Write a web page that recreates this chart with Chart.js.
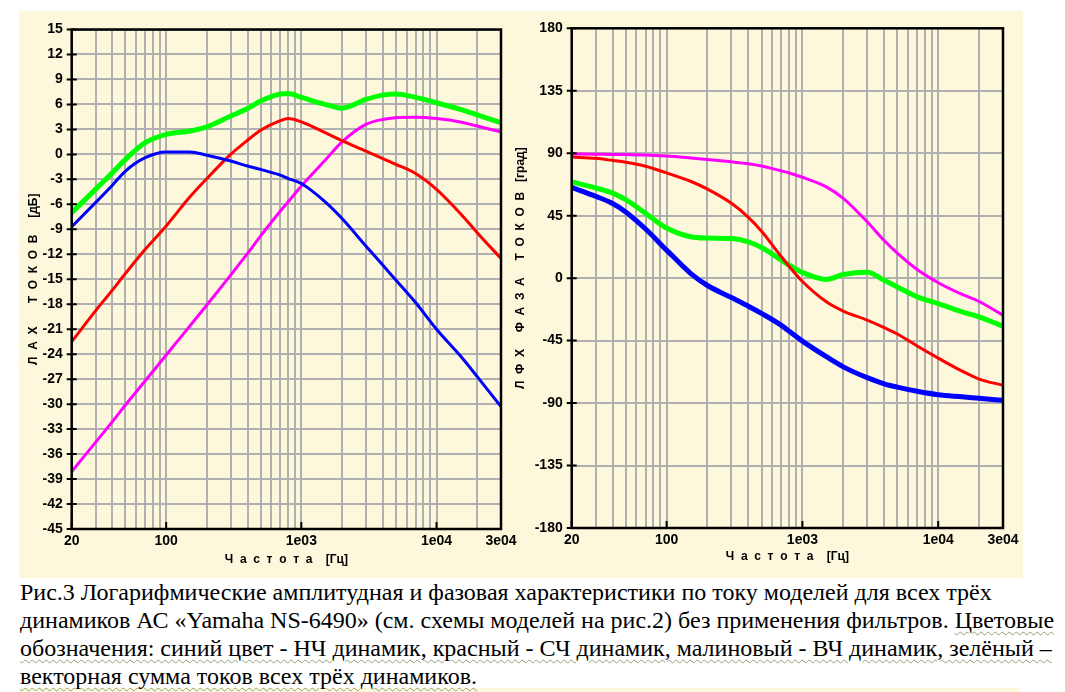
<!DOCTYPE html>
<html>
<head>
<meta charset="utf-8">
<script src="https://cdn.jsdelivr.net/npm/chart.js@4.4.1/dist/chart.umd.min.js"></script>
<style>
  html, body { margin: 0; padding: 0; background: #fff; }
  body { width: 1065px; height: 692px; position: relative; overflow: hidden; }
  .panel { position: absolute; left: 19px; top: 11px; width: 1004px; height: 567px; background: #fdf8dc; }
  .strip { position: absolute; left: 19px; top: 688px; width: 1001px; height: 4px; background: #fdf8dc; }
  #lax { position: absolute; left: 19px; top: 11px; }
  #lfx { position: absolute; left: 510px; top: 11px; }
  .caption {
    position: absolute; left: 20px; top: 578px;
    font-family: "Liberation Serif", "DejaVu Serif", "Times New Roman", serif;
    font-size: 24px; line-height: 28px; color: #000; white-space: nowrap;
  }
  .wavy { text-decoration: underline wavy #8fa080; text-decoration-thickness: 1px; text-underline-offset: 3px; }
</style>
</head>
<body>
<div class="panel"></div>
<div class="strip"></div>
<canvas id="lax" width="525" height="567"></canvas>
<canvas id="lfx" width="513" height="567"></canvas>
<div class="caption">
  Рис.3 Логарифмические амплитудная и фазовая характеристики по току моделей для всех трёх<br>
  динамиков АС «Yamaha NS-6490» (см. схемы моделей на рис.2) без применения фильтров. <span class="wavy">Цветовые</span><br>
  <span class="wavy">обозначения: синий цвет - НЧ динамик, красный - СЧ динамик, малиновый - ВЧ динамик, зелёный –</span><br>
  <span class="wavy">векторная сумма токов всех трёх динамиков.</span>
</div>
<script>
// frequencies, Hz
const freqs = [20, 30, 40, 50, 70, 100, 150, 200, 300, 400, 500, 700, 800, 1000, 1500, 2000, 3000, 4000, 5000, 7000, 10000, 15000, 20000, 30000];

// ЛАХ токов, дБ
const laxLow  = [-8.7, -5.8, -3.7, -2.0, -0.4, 0.3, 0.3, -0.1, -0.8, -1.4, -1.8, -2.5, -2.9, -3.5, -5.7, -7.7, -11.0, -13.3, -15.1, -17.8, -21.0, -24.2, -26.7, -30.3];
const laxMid  = [-22.5, -18.8, -16.3, -14.3, -11.4, -8.6, -5.1, -2.9, 0.0, 1.7, 2.9, 4.05, 4.3, 3.9, 2.6, 1.65, 0.4, -0.5, -1.2, -2.3, -4.2, -7.1, -9.4, -12.5];
const laxHigh = [-38.1, -34.6, -32.1, -30.1, -27.2, -24.1, -20.6, -18.1, -14.5, -11.9, -9.8, -6.8, -5.7, -3.8, -0.7, 1.5, 3.6, 4.2, 4.4, 4.45, 4.3, 3.9, 3.4, 2.7];
const laxSum  = [-7.0, -4.2, -2.2, -0.6, 1.4, 2.4, 2.8, 3.3, 4.6, 5.5, 6.4, 7.25, 7.3, 6.85, 6.0, 5.55, 6.6, 7.12, 7.25, 6.85, 6.2, 5.4, 4.75, 3.8];

// ЛФХ токов, град
const lfxLow  = [65.4, 59.0, 53.8, 47.7, 35.4, 20.2, 3.5, -5.3, -14.0, -20.2, -25.4, -34.0, -38.3, -45.4, -56.6, -63.9, -71.7, -76.1, -78.5, -81.5, -84.0, -85.5, -86.6, -88.0];
const lfxMid  = [87.2, 86.3, 84.8, 83.5, 80.6, 75.8, 69.8, 64.1, 53.9, 43.8, 33.8, 15.4, 8.4, -2.4, -17.0, -23.7, -30.3, -35.7, -40.2, -48.9, -57.6, -67.0, -72.7, -77.2];
const lfxHigh = [89.5, 89.3, 89.1, 89.0, 88.8, 88.0, 86.6, 85.5, 83.8, 82.4, 80.8, 77.2, 75.8, 72.7, 65.8, 57.5, 40.6, 27.1, 18.0, 6.2, -3.3, -11.7, -16.8, -26.7];
const lfxSum  = [69.4, 65.0, 61.3, 56.5, 46.7, 36.1, 29.8, 28.9, 28.6, 26.2, 22.1, 13.0, 9.3, 4.1, -0.9, 2.6, 4.3, -1.5, -6.3, -13.5, -18.3, -24.3, -27.9, -34.6];

// axis ticks
const gridFreqs = [20, 30, 40, 50, 60, 70, 80, 90, 100, 200, 300, 400, 500, 600, 700, 800, 900,
  1000, 2000, 3000, 4000, 5000, 6000, 7000, 8000, 9000, 10000, 20000, 30000];
const majorFreqs = [20, 100, 1000, 10000, 30000];
const majorFreqLabels = ['20', '100', '1e03', '1e04', '3e04'];

const tickFont = { family: 'Liberation Sans', size: 14, weight: 'bold' };
const titleFont = { family: 'Liberation Sans', size: 12, weight: 'bold' };

const frame = {
  id: 'frame',
  afterDatasetsDraw(chart) {
    const { ctx, chartArea: a, scales: { x, y } } = chart;
    ctx.save();
    ctx.strokeStyle = '#000';
    ctx.lineWidth = 2.5;
    ctx.strokeRect(a.left, a.top, a.right - a.left, a.bottom - a.top);
    ctx.lineWidth = 2;
    ctx.beginPath();
    y.ticks.forEach(t => {
      const py = y.getPixelForValue(t.value);
      ctx.moveTo(a.left - 5, py);
      ctx.lineTo(a.left + 5, py);
    });
    majorFreqs.forEach(f => {
      const px = x.getPixelForValue(f);
      ctx.moveTo(px, a.bottom);
      ctx.lineTo(px, a.bottom - 7);
    });
    ctx.stroke();
    ctx.restore();
  }
};

function makeChart(id, series, yMin, yMax, yStep, yTitle, lay) {
  return new Chart(id, {
    type: 'line',
    data: {
      datasets: series.map(s => ({
        data: freqs.map((f, i) => ({ x: f, y: s.values[i] })),
        borderColor: s.color,
        borderWidth: s.width,
        pointRadius: 0,
        cubicInterpolationMode: 'monotone',
        fill: false
      }))
    },
    options: {
      responsive: false,
      animation: false,
      layout: { padding: lay.padding },
      plugins: { legend: { display: false }, tooltip: { enabled: false } },
      scales: {
        x: {
          type: 'logarithmic',
          min: 20,
          max: 30000,
          afterBuildTicks: s => { s.ticks = gridFreqs.map(v => ({ value: v })); },
          afterFit: s => { s.height = lay.xHeight; s.paddingLeft = 0; s.paddingRight = 0; },
          grid: { color: '#b0b0b0', lineWidth: 2, drawTicks: false },
          border: { display: false },
          ticks: {
            autoSkip: false, maxRotation: 0, minRotation: 0, padding: 4, color: '#000', font: tickFont,
            callback: v => { const i = majorFreqs.indexOf(v); return i < 0 ? '' : majorFreqLabels[i]; }
          },
          title: { display: true, text: 'Ч  а  с  т  о  т  а    [Гц]', color: '#000', font: titleFont,
                   padding: { top: 0, bottom: lay.xTitlePad } }
        },
        y: {
          min: yMin,
          max: yMax,
          afterFit: s => { s.width = lay.yWidth; s.paddingTop = 0; s.paddingBottom = 0; },
          grid: { color: '#b0b0b0', lineWidth: 2, drawTicks: false },
          border: { display: false },
          ticks: { stepSize: yStep, padding: 9, color: '#000', font: tickFont },
          title: { display: true, text: yTitle, color: '#000', font: titleFont,
                   padding: { top: lay.yTitlePad, bottom: 0 } }
        }
      }
    },
    plugins: [frame]
  });
}

makeChart('lax', [
  { values: laxLow, color: '#0000ff', width: 3 },
  { values: laxMid, color: '#ff0000', width: 3 },
  { values: laxHigh, color: '#ff00ff', width: 3 },
  { values: laxSum, color: '#00ff00', width: 5 }
], -45, 15, 3, 'Л  А  Х       Т  О  К  О  В     [дБ]',
  { padding: { left: 0, right: 43, top: 18.5, bottom: 0 }, yWidth: 52.7, xHeight: 49, yTitlePad: 7.8, xTitlePad: 10.8 });

makeChart('lfx', [
  { values: lfxLow, color: '#0000ff', width: 5 },
  { values: lfxMid, color: '#ff0000', width: 3 },
  { values: lfxHigh, color: '#ff00ff', width: 3 },
  { values: lfxSum, color: '#00ff00', width: 5 }
], -180, 180, 45, '      Л  Ф  Х     Ф  А  З  А     Т  О  К  О  В   [град]',
  { padding: { left: 0, right: 20, top: 17.3, bottom: 0 }, yWidth: 61.7, xHeight: 50, yTitlePad: 3.8, xTitlePad: 13.8 });
</script>
</body>
</html>
